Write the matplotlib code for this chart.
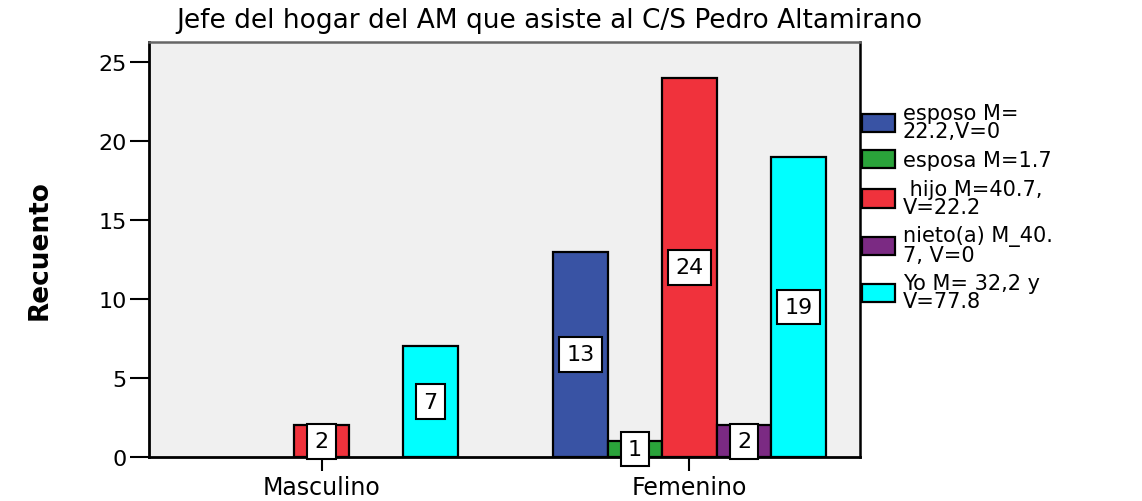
import matplotlib
matplotlib.use("Agg")
import matplotlib.pyplot as plt
import numpy as np

plt.rcParams['font.family'] = ['DejaVu Sans']

categories = ["Masculino", "Femenino"]
series_labels = ["esposo M=\n22.2,V=0", "esposa M=1.7", " hijo M=40.7,\nV=22.2",
                 "nieto(a) M_40.\n7, V=0", "Yo M= 32,2 y\nV=77.8"]
series_colors = ["#3953a4", "#2aa33a", "#f0323c", "#7b2a83", "#00ffff"]
esposo = [0, 13]
esposa = [0, 1]
hijo = [2, 24]
nieto = [0, 2]
yo = [7, 19]
values = [esposo, esposa, hijo, nieto, yo]
yticks = [0, 5, 10, 15, 20, 25]

fig = plt.figure(figsize=(11.42, 5.02), dpi=100)
ax = fig.add_axes([149/1142, 1-458/502, (860-149)/1142, (458-43)/502])
ax.set_facecolor("#f0f0f0")

w = 0.148
x = np.arange(len(categories))
handles = []
for i, (vals, col, lab) in enumerate(zip(values, series_colors, series_labels)):
    off = (i - 2) * w
    xs = [xx + off for xx, v in zip(x, vals) if v > 0]
    vs = [v for v in vals if v > 0]
    b = ax.bar(xs, vs, width=w, color=col, edgecolor="black", linewidth=1.6, zorder=3, label=lab)
    handles.append(b)
    for xx, v in zip(xs, vs):
        ax.text(xx, v / 2, str(v), ha="center", va="center", fontsize=16, zorder=6,
                bbox=dict(boxstyle="square,pad=0.33", facecolor="white", edgecolor="black", linewidth=1.5))

ax.set_xlim((149-321.5)/368, (860-321.5)/368)
ax.set_ylim(0, 26.27)
ax.set_xticks(x)
ax.set_xticklabels(categories, fontsize=17)
ax.set_yticks(yticks)
ax.set_yticklabels([str(t) for t in yticks], fontsize=16)
ax.tick_params(axis="y", length=14, width=1.5, pad=2)
ax.tick_params(axis="x", length=10, width=1.5, pad=3)

for s in ["left", "bottom"]:
    ax.spines[s].set_linewidth(2)
    ax.spines[s].set_color("black")
ax.spines["top"].set_color("#666666")
ax.spines["top"].set_linewidth(1.8)
ax.spines["right"].set_color("black")
ax.spines["right"].set_linewidth(1.8)

fig.text(549/1142, 1-28/502, "Jefe del hogar del AM que asiste al C/S Pedro Altamirano",
         ha="center", va="baseline", fontsize=19)
fig.text(40/1142, 1-250/502, "Recuento", rotation=90, ha="center", va="center",
         fontsize=19, fontweight="bold")

leg = fig.legend(handles=handles, labels=series_labels, loc="upper left",
                 bbox_to_anchor=(862/1142, 1-104/502), bbox_transform=fig.transFigure,
                 frameon=False, fontsize=15, handlelength=1.6, handleheight=1.0,
                 handletextpad=0.35, labelspacing=0.4, borderpad=0, borderaxespad=0)
for t in leg.get_texts():
    t.set_linespacing(0.9)

fig.savefig("out.png", dpi=100, facecolor="white")
